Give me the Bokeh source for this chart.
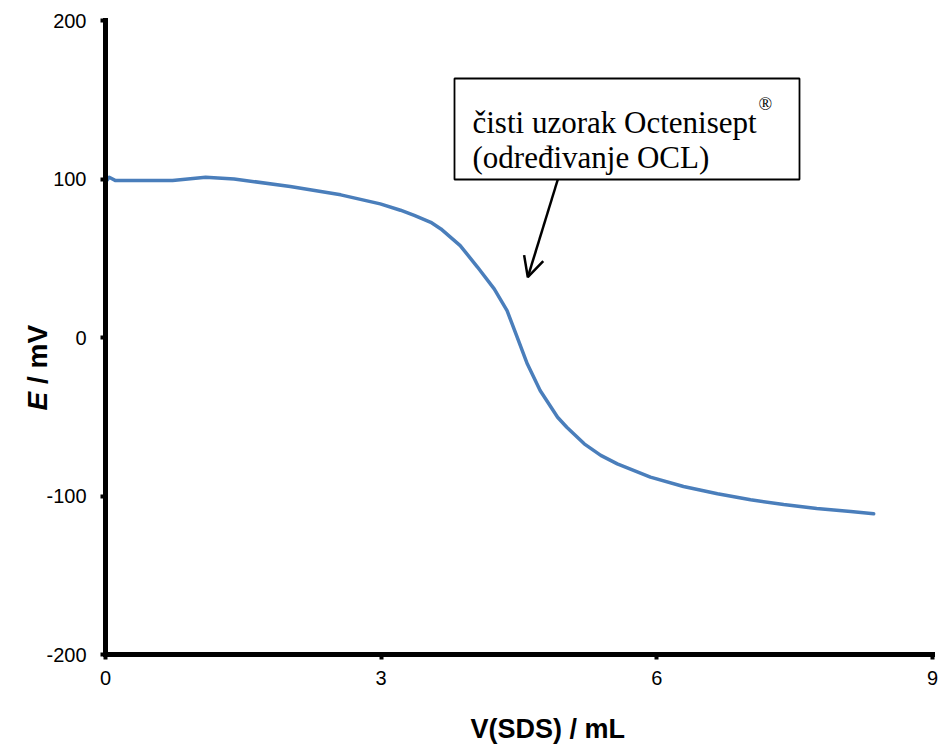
from bokeh.plotting import figure
from bokeh.models import (Range1d, FixedTicker, Label, BoxAnnotation, Arrow, OpenHead,
                          LinearAxis)
from bokeh.embed import file_html
from bokeh.resources import INLINE
import math

# ---- data ----
V_SDS = [0.00, 0.04, 0.11, 0.73, 1.09, 1.40, 2.01, 2.56, 2.99, 3.21, 3.36, 3.54,
         3.65, 3.86, 4.05, 4.23, 4.37, 4.48, 4.59, 4.73, 4.92, 5.02, 5.21, 5.39,
         5.57, 5.93, 6.29, 6.66, 7.02, 7.38, 7.74, 8.11, 8.36]
E_mV = [98.0, 101.1, 99.0, 99.0, 101.1, 100.0, 95.3, 90.0, 84.3, 80.3, 77.0, 72.7,
        68.5, 58.0, 44.3, 30.7, 17.0, 0.2, -16.6, -33.4, -50.3, -56.6, -67.1, -74.4,
        -79.7, -88.1, -94.0, -98.6, -102.4, -105.4, -107.9, -109.8, -111.2]

x_ticks = [0, 3, 6, 9]
x_tick_labels = ["0", "3", "6", "9"]
y_ticks = [-200, -100, 0, 100, 200]
y_tick_labels = ["-200", "-100", "0", "100", "200"]

x_title = "V(SDS) / mL"
y_title_italic = "E"
y_title_rest = "/ mV"
note_line1 = "čisti uzorak Octenisept"
note_sup = "®"
note_line2 = "(određivanje OCL)"

W, H = 939, 747
# plot area in pixels: x 0..9 -> 105..932, y 200..-200 -> 20..654
PL, PR, PT, PB = 105, 932, 20, 654
sx = (PR - PL) / 9.0
sy = (PB - PT) / 400.0
x0 = -PL / sx
x1 = 9 + (W - PR) / sx
y1 = 200 + PT / sy
y0 = -200 - (H - PB) / sy

def dx(px):
    return (px - PL) / sx

def dy(py):
    return 200 - (py - PT) / sy

p = figure(width=W, height=H, x_range=Range1d(x0, x1), y_range=Range1d(y0, y1),
           output_backend="svg", toolbar_location=None,
           x_axis_location=None, y_axis_location=None,
           min_border=0, min_border_left=0, min_border_right=0,
           min_border_top=0, min_border_bottom=0)
p.outline_line_color = None
p.grid.visible = False
p.background_fill_color = "white"
p.border_fill_color = "white"

xaxis = LinearAxis(fixed_location=-200, bounds=(0, 9))
yaxis = LinearAxis(fixed_location=0, bounds=(-200, 200))
for ax in (xaxis, yaxis):
    ax.axis_line_width = 5
    ax.axis_line_color = "black"
    ax.axis_line_cap = "square"
    ax.major_tick_line_width = 4
    ax.major_tick_line_color = "black"
    ax.major_tick_in = 0
    ax.major_tick_out = 5
    ax.minor_tick_line_color = None
    ax.major_label_text_font = "Liberation Sans"
    ax.major_label_text_font_size = "20px"
    ax.major_label_text_color = "black"

xaxis.ticker = FixedTicker(ticks=x_ticks)
xaxis.major_label_overrides = dict(zip(x_ticks, x_tick_labels))
xaxis.major_label_standoff = 11
yaxis.ticker = FixedTicker(ticks=y_ticks)
yaxis.major_label_overrides = dict(zip(y_ticks, y_tick_labels))
yaxis.major_label_standoff = 14
p.add_layout(xaxis, "below")
p.add_layout(yaxis, "left")

p.line(V_SDS, E_mV, line_color="#4A7EBB", line_width=3.5, line_join="round", line_cap="round")

# axis titles
p.add_layout(Label(x=dx(470), y=dy(728), text=x_title, text_font="Liberation Sans",
                   text_font_size="27px", text_font_style="bold", text_color="black",
                   text_align="left", text_baseline="alphabetic"))
p.add_layout(Label(x=dx(36.7), y=dy(410), text=y_title_italic, angle=math.pi / 2,
                   text_font="Liberation Sans", text_font_size="28px",
                   text_font_style="bold italic", text_color="black",
                   text_align="left", text_baseline="alphabetic"))
p.add_layout(Label(x=dx(36.7), y=dy(383.5), text=y_title_rest, angle=math.pi / 2,
                   text_font="Liberation Sans", text_font_size="28px",
                   text_font_style="bold", text_color="black",
                   text_align="left", text_baseline="alphabetic"))

# callout box
p.add_layout(BoxAnnotation(left=dx(454), right=dx(799), top=dy(78), bottom=dy(179),
                           fill_color="white", fill_alpha=1.0,
                           line_color="black", line_alpha=1.0, line_width=1.8))
p.add_layout(Label(x=dx(472), y=dy(122), text=note_line1, text_font="Liberation Serif",
                   text_font_size="31px", text_color="black",
                   text_align="left", text_baseline="alphabetic"))
p.add_layout(Label(x=dx(758), y=dy(93.5), text=note_sup, text_font="Liberation Serif",
                   text_font_size="18px", text_color="black",
                   text_align="left", text_baseline="top"))
p.add_layout(Label(x=dx(472), y=dy(157), text=note_line2, text_font="Liberation Serif",
                   text_font_size="31px", text_color="black",
                   text_align="left", text_baseline="alphabetic"))
p.add_layout(Arrow(x_start=dx(557.3), y_start=dy(179), x_end=dx(527.3), y_end=dy(276.7),
                   line_color="black", line_width=2.5,
                   end=OpenHead(size=20, line_color="black", line_width=2.5)))

open("out.html", "w").write(file_html(p, INLINE))
